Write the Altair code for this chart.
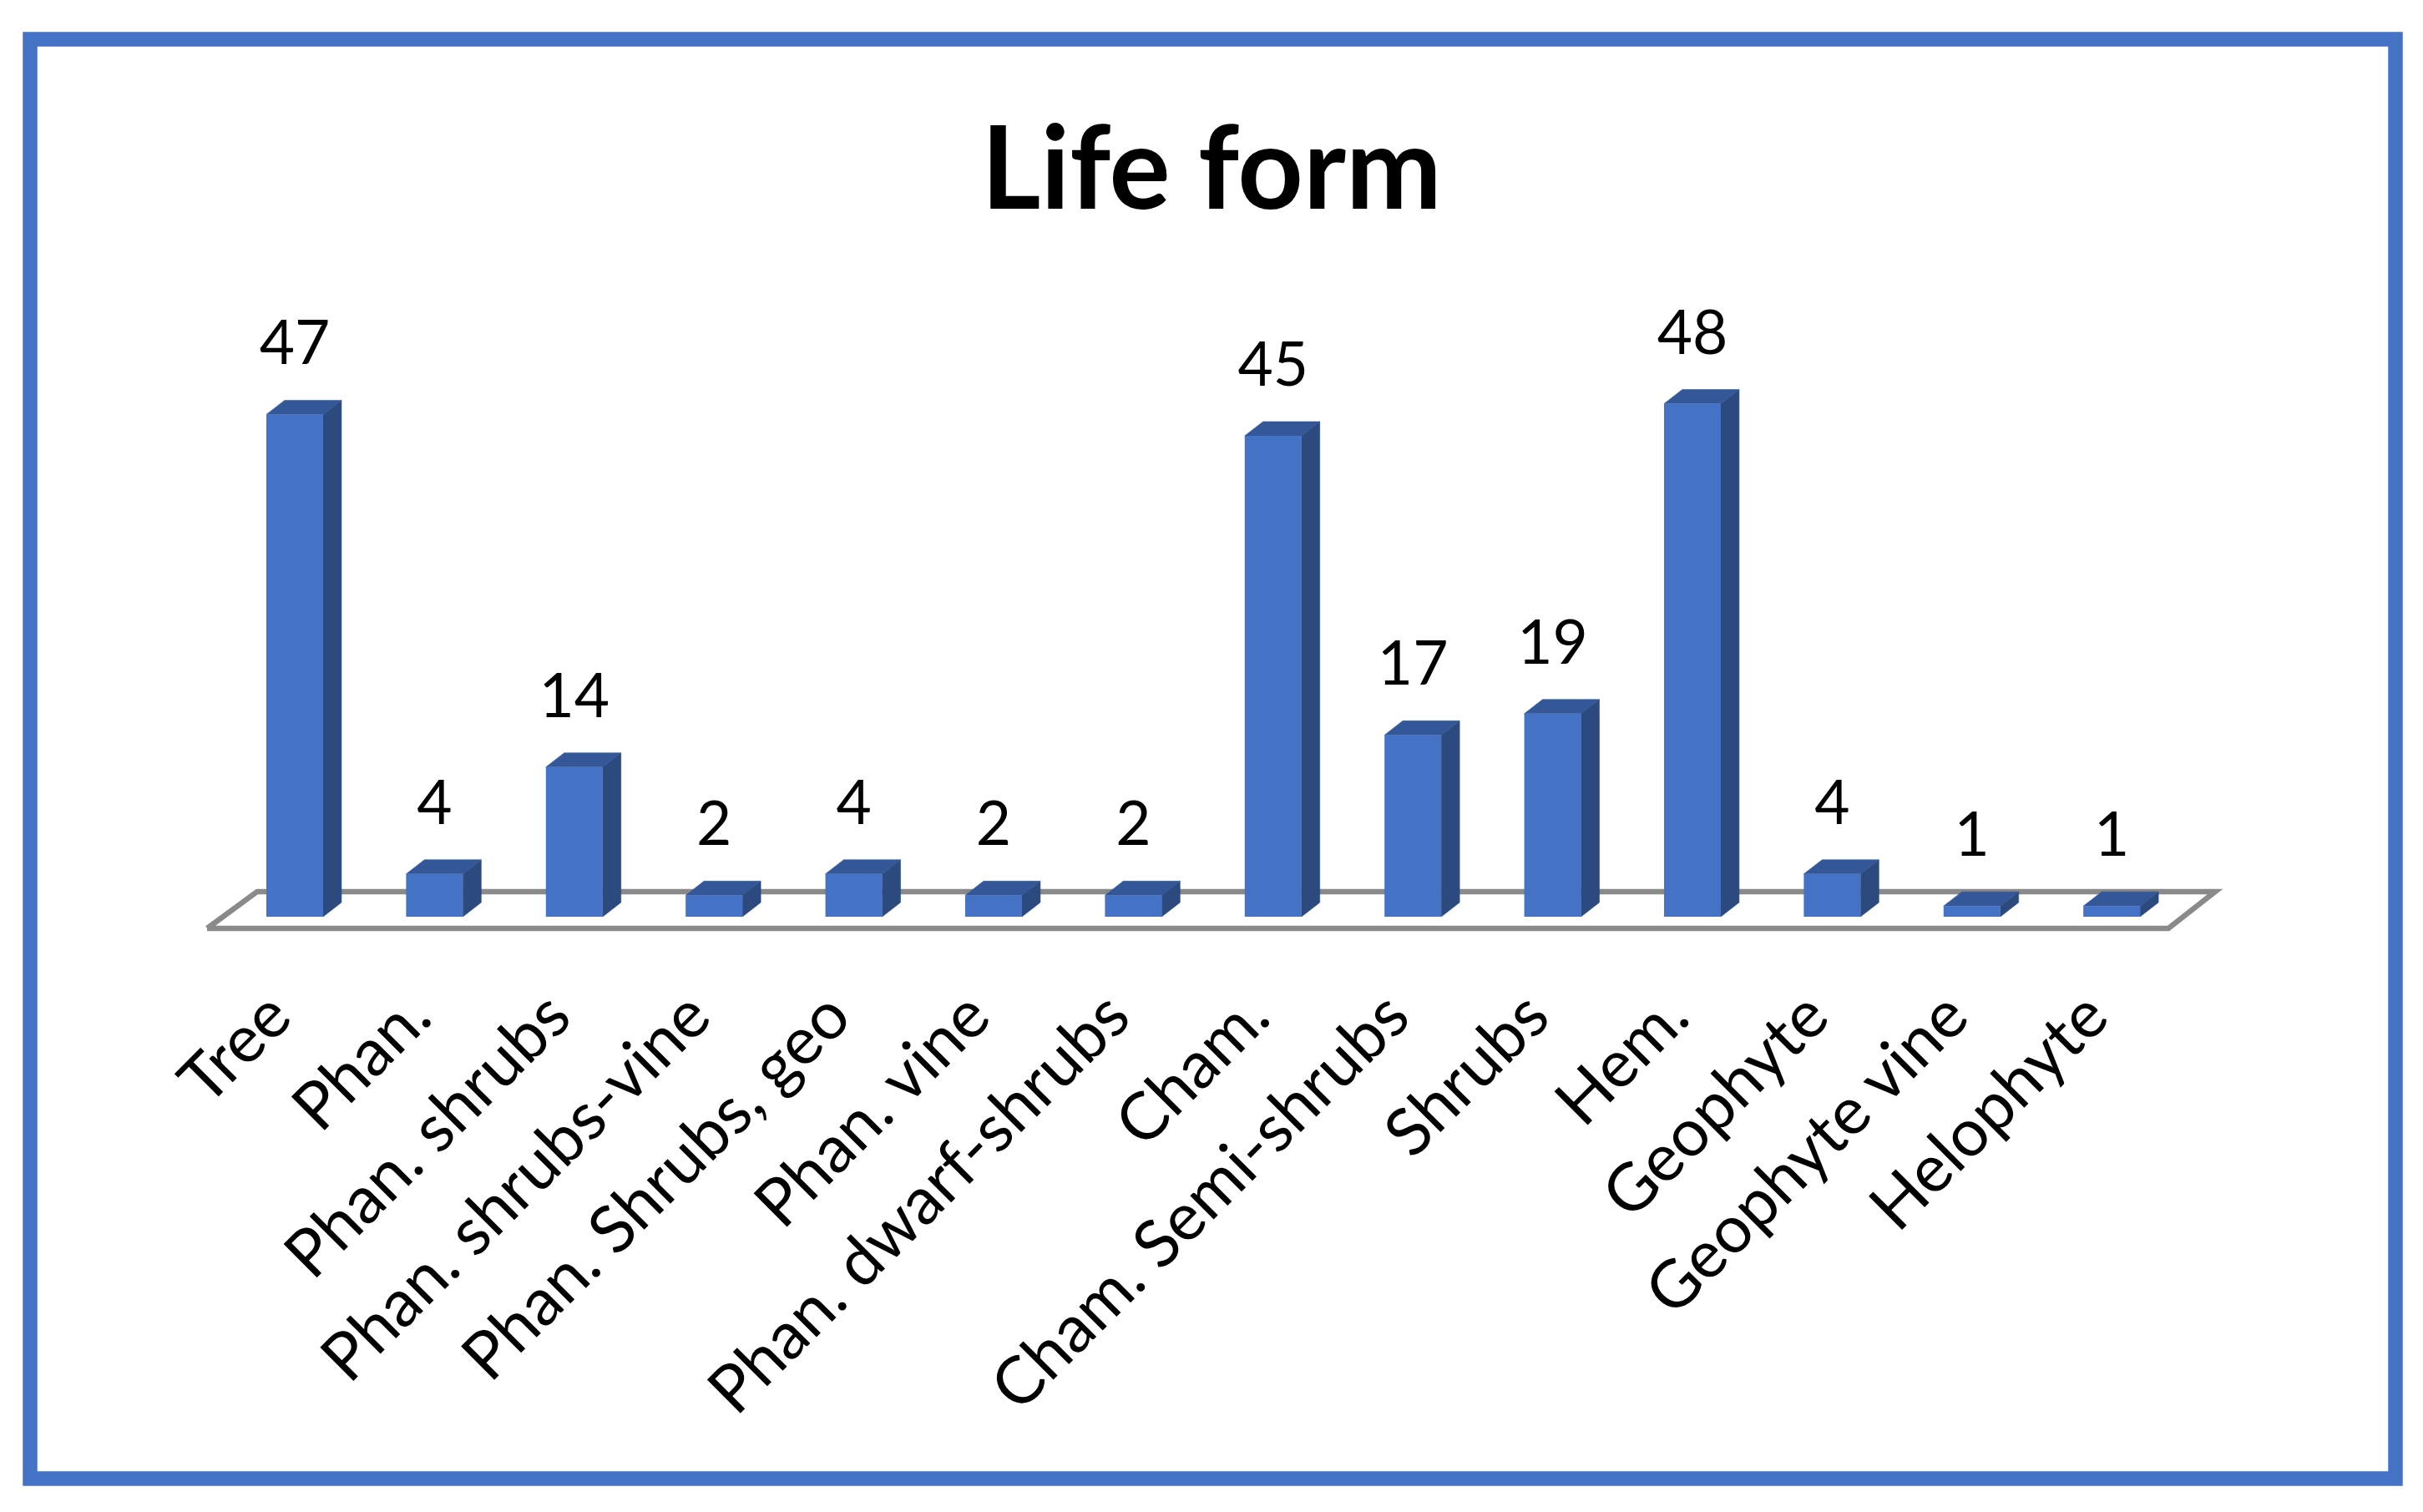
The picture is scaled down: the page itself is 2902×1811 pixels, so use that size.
import altair as alt
import pandas as pd

# ---- data ----
categories = ["Tree", "Phan.", "Phan. shrubs", "Phan. shrubs-vine", "Phan. Shrubs, geo",
              "Phan. vine", "Phan. dwarf-shrubs", "Cham.", "Cham. Semi-shrubs", "Shrubs",
              "Hem.", "Geophyte", "Geophyte vine", "Helophyte"]
values = [47, 4, 14, 2, 4, 2, 2, 45, 17, 19, 48, 4, 1, 1]
title_text = "Life form"

# ---- styling / geometry (category units and value units) ----
HALF = 0.2031      # half width of the bar front face
DX = 0.131         # depth offset horizontally (category units)
DY = 1.33          # depth offset vertically (value units)
FRONT = "#4472C4"
SIDE = "#2C4A7E"
TOP = "#345897"
FLOOR = "#8A8A8A"

W, H = 2833, 1724
xs = alt.Scale(domain=[-1.8937, 15.030], nice=False, zero=False)
ys = alt.Scale(domain=[-52.58, 82.11], nice=False, zero=False)

idx = list(range(len(categories)))
bars = pd.DataFrame({"cat": categories, "val": values, "idx": idx})
bars["xl"] = bars["idx"] - HALF
bars["xr"] = bars["idx"] + HALF
bars["base"] = 0.0

side_rows, top_rows = [], []
for c, v, i in zip(categories, values, idx):
    side_rows.append({"cat": c, "x": i + HALF, "top": v, "bot": 0.0})
    side_rows.append({"cat": c, "x": i + HALF + DX, "top": v + DY, "bot": DY})
    top_rows.append({"cat": c, "y": v, "xa": i - HALF, "xb": i + HALF})
    top_rows.append({"cat": c, "y": v + DY, "xa": i - HALF + DX, "xb": i + HALF + DX})
side = pd.DataFrame(side_rows)
topf = pd.DataFrame(top_rows)

n = len(categories)
floor = pd.DataFrame({
    "x": [-0.627, n - 0.595, n - 0.26, -0.269, -0.627],
    "y": [-1.094, -1.094, 2.344, 2.344, -1.094],
    "o": [0, 1, 2, 3, 4],
})

floor_layer = alt.Chart(floor).mark_line(color=FLOOR, strokeWidth=6.5, strokeJoin="miter").encode(
    x=alt.X("x:Q", scale=xs, axis=None),
    y=alt.Y("y:Q", scale=ys, axis=None),
    order="o:Q",
)

side_layer = alt.Chart(side).mark_area(orient="vertical", color=SIDE, stroke=SIDE, strokeWidth=0.6).encode(
    x=alt.X("x:Q", scale=xs, axis=None),
    y=alt.Y("top:Q", scale=ys, axis=None),
    y2="bot:Q",
    detail="cat:N",
)

top_layer = alt.Chart(topf).mark_area(orient="horizontal", color=TOP, stroke=TOP, strokeWidth=0.6).encode(
    y=alt.Y("y:Q", scale=ys, axis=None),
    x=alt.X("xa:Q", scale=xs, axis=None),
    x2="xb:Q",
    detail="cat:N",
)

front_layer = alt.Chart(bars).mark_rect(color=FRONT).encode(
    x=alt.X("xl:Q", scale=xs, axis=None),
    x2="xr:Q",
    y=alt.Y("val:Q", scale=ys, axis=None),
    y2="base:Q",
)

value_labels = alt.Chart(bars).mark_text(
    font="Lato", fontSize=73, baseline="alphabetic", align="center", dy=-60, color="black"
).encode(
    x=alt.X("idx:Q", scale=xs, axis=None),
    y=alt.Y("val:Q", scale=ys, axis=None),
    text="val:Q",
)

cat_labels = alt.Chart(bars).mark_text(
    font="Lato", fontSize=79, baseline="alphabetic", align="right", angle=315, color="black"
).encode(
    x=alt.X("idx:Q", scale=xs, axis=None),
    y=alt.value(1175),
    text="cat:N",
)

title_layer = alt.Chart(pd.DataFrame({"t": [title_text]})).mark_text(
    font="Lato", fontSize=137, fontWeight="bold", baseline="alphabetic", align="center", color="black"
).encode(
    x=alt.value(1415),
    y=alt.value(203),
    text="t:N",
)

chart = alt.layer(
    floor_layer, side_layer, top_layer, front_layer, value_labels, cat_labels, title_layer
).properties(
    width=W, height=H,
    padding={"left": 28, "top": 39, "right": 20, "bottom": 20},
    autosize="none",
    background="white",
).configure_view(
    stroke=FRONT, strokeWidth=17.5, fill="white"
)

chart.save("out.html", embed_options={"renderer": "svg", "actions": False})
